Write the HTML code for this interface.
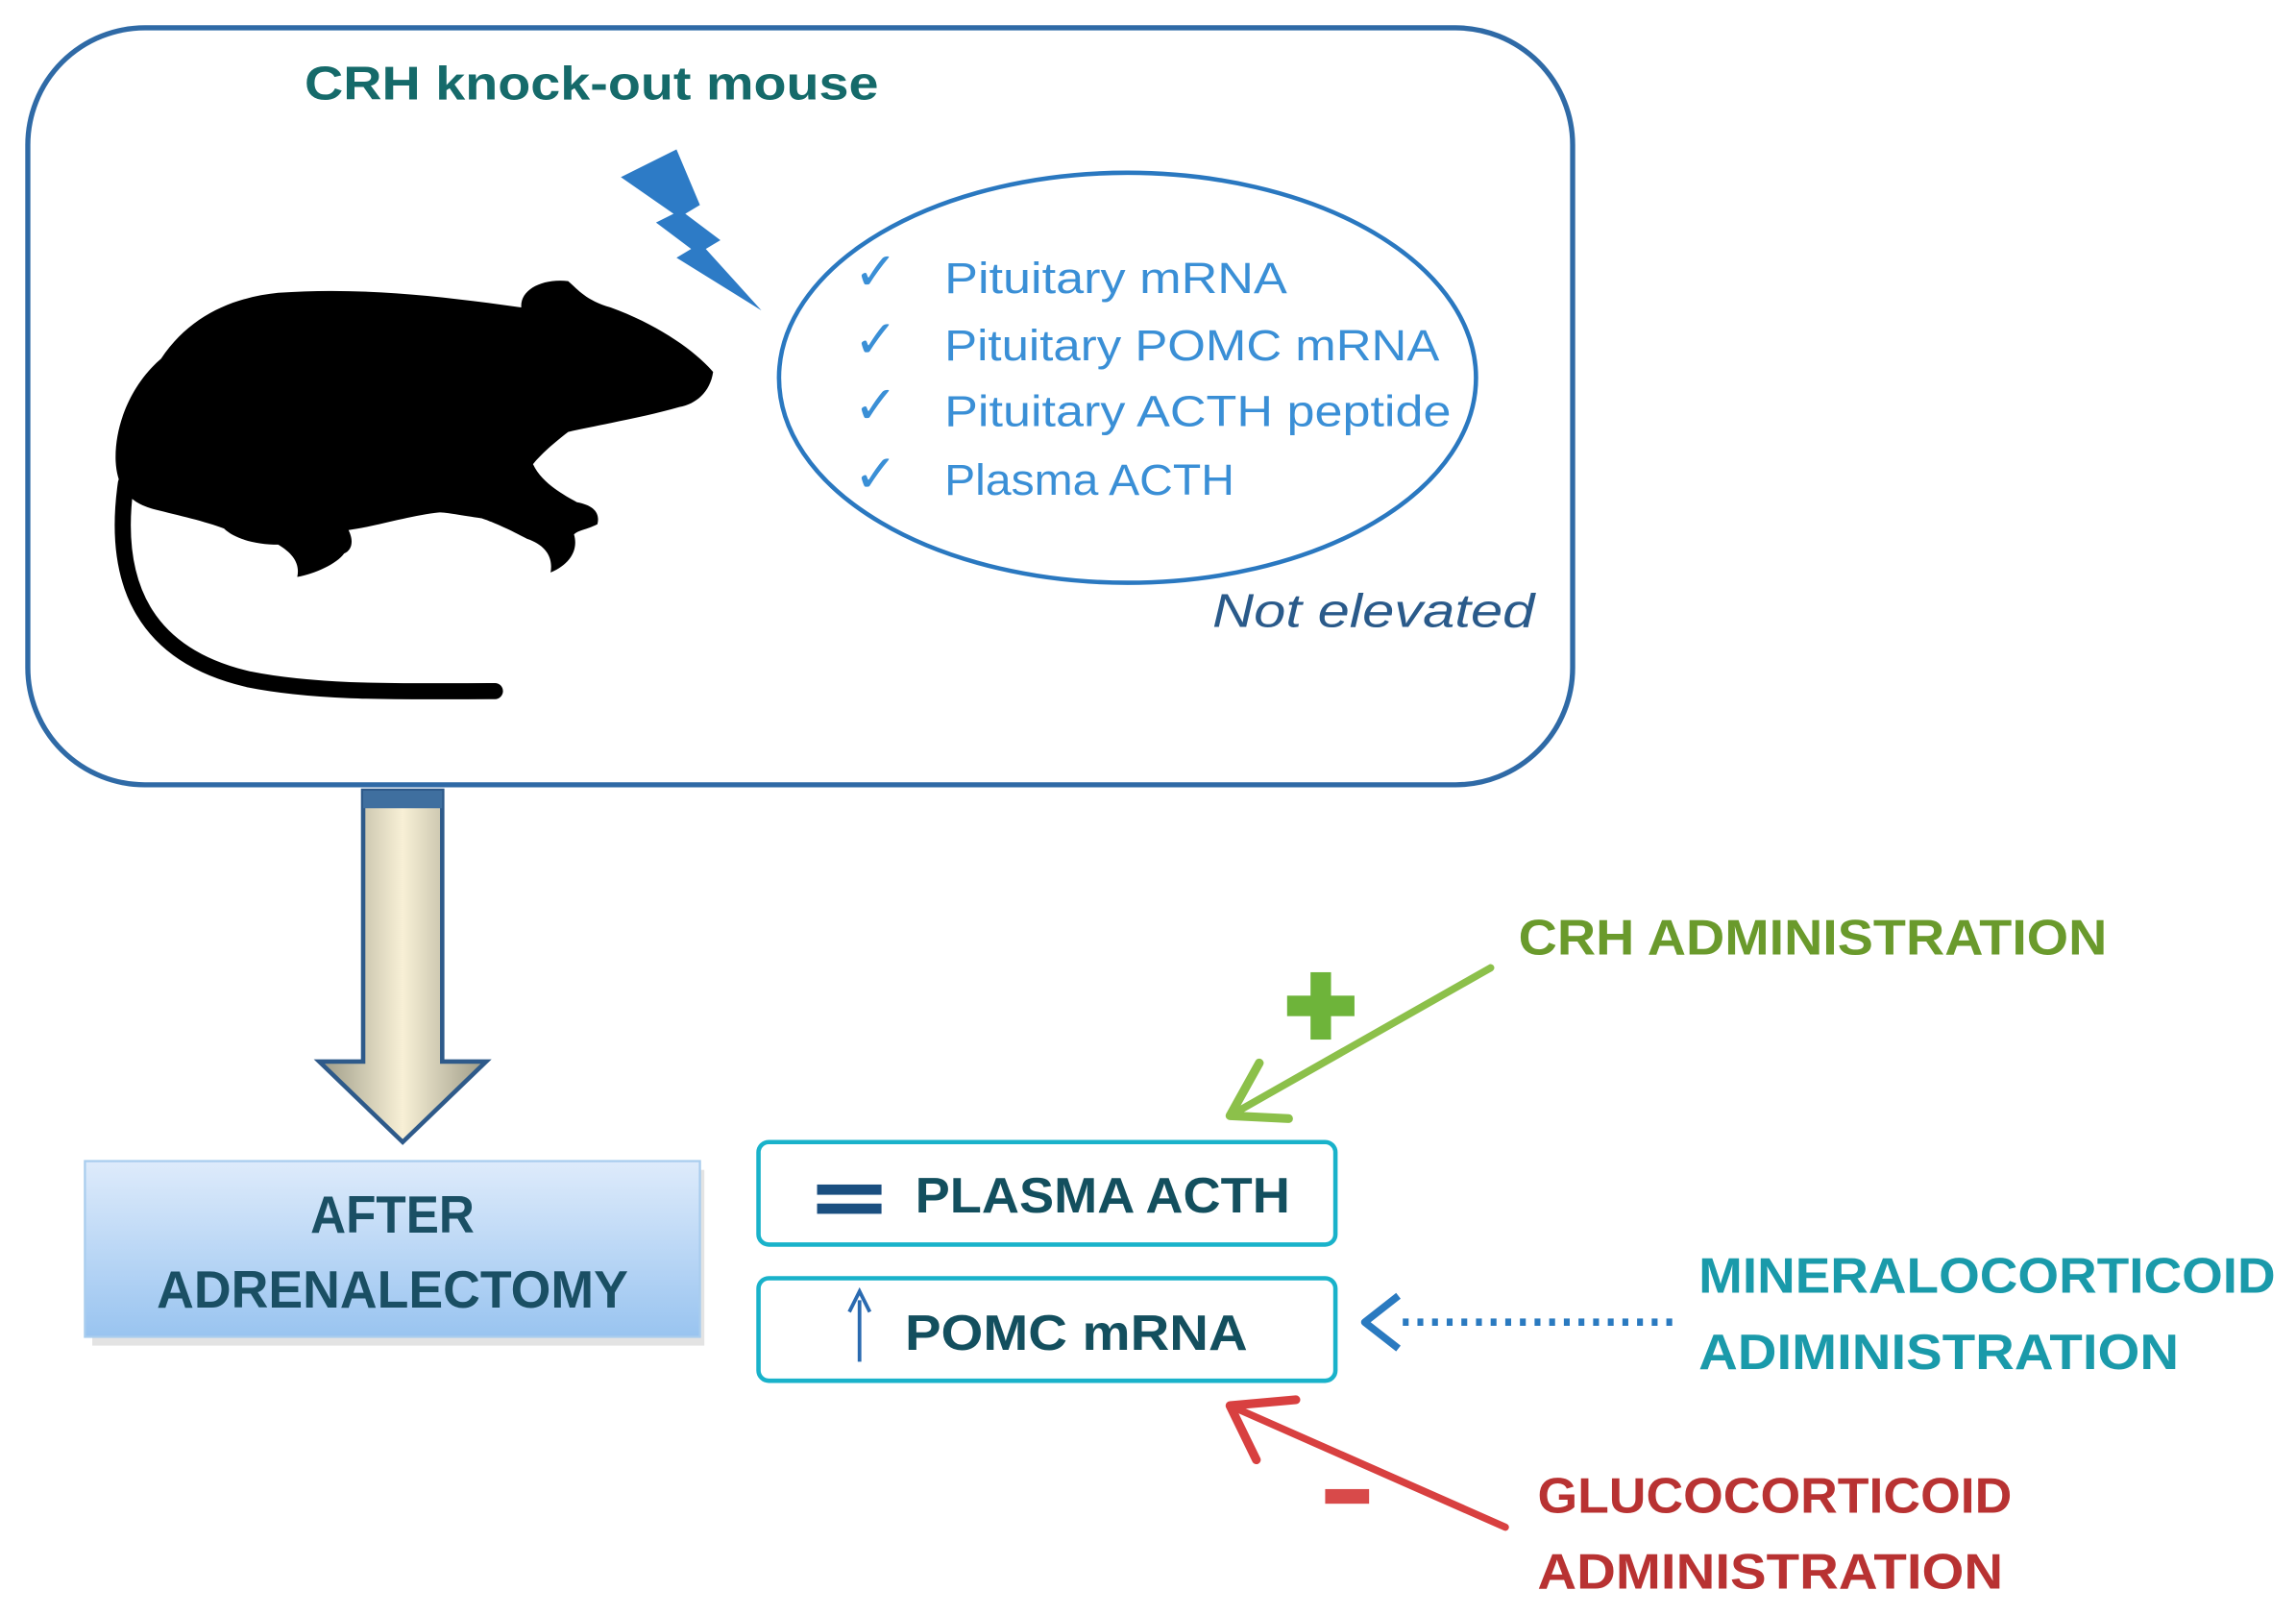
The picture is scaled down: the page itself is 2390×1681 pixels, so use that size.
<!DOCTYPE html>
<html><head><meta charset="utf-8"><style>
html,body{margin:0;padding:0;background:#fff}
svg{display:block}
text{font-family:"Liberation Sans",sans-serif}
</style></head><body>
<svg width="2390" height="1681" viewBox="0 0 1568 1103" preserveAspectRatio="none" xmlns="http://www.w3.org/2000/svg">
<defs>
<linearGradient id="sh" x1="0" x2="1" y1="0" y2="0">
<stop offset="0" stop-color="#9c9a86"/><stop offset="0.5" stop-color="#f8f0d6"/><stop offset="1" stop-color="#9c9a86"/>
</linearGradient>
<linearGradient id="bx" x1="0" x2="0" y1="0" y2="1">
<stop offset="0" stop-color="#deebfb"/><stop offset="1" stop-color="#99c4f0"/>
</linearGradient>
</defs>
<rect x="19" y="19" width="1055" height="517" rx="80" fill="#fff" stroke="#2f6aa6" stroke-width="3.5"/>
<text x="208" y="68" font-size="32" font-weight="bold" fill="#156a6a" textLength="392" lengthAdjust="spacingAndGlyphs">CRH knock-out mouse</text>
<polygon points="424,121 462,102 478,140 468,146 492,164 482,170 520,212 462,176 472,170 448,152 460,146" fill="#2d7bc6"/>
<ellipse cx="770" cy="258" rx="238" ry="140" fill="none" stroke="#2a78c0" stroke-width="3"/>
<g font-size="30" fill="#3a8fd6">
<text x="583" y="198" font-size="36">✓</text><text x="645" y="200" textLength="234" lengthAdjust="spacingAndGlyphs">Pituitary mRNA</text>
<text x="583" y="244" font-size="36">✓</text><text x="645" y="246" textLength="338" lengthAdjust="spacingAndGlyphs">Pituitary POMC mRNA</text>
<text x="583" y="289" font-size="36">✓</text><text x="645" y="291" textLength="346" lengthAdjust="spacingAndGlyphs">Pituitary ACTH peptide</text>
<text x="583" y="336" font-size="36">✓</text><text x="645" y="338" textLength="198" lengthAdjust="spacingAndGlyphs">Plasma ACTH</text>
</g>
<text x="828" y="428" font-size="32" font-style="italic" fill="#2a5a8a" textLength="220" lengthAdjust="spacingAndGlyphs">Not elevated</text>
<!-- mouse -->
<path d="M110,245 C130,215 160,203 190,200 C245,196 300,202 356,210 C355,198 370,190 388,192 C395,198 400,205 417,210 C450,222 475,240 487,254 C485,268 475,276 464,278 C440,285 410,290 388,295 C375,305 368,312 364,317 C370,330 385,338 394,343 C405,345 410,350 408,358 C400,362 395,362 392,365 C395,375 390,385 376,391 C378,380 372,372 360,368 C345,360 335,356 329,354 C315,352 305,350 300,350 C280,352 255,360 238,362 C242,370 240,376 235,378 C230,385 215,392 203,394 C205,385 200,378 190,372 C175,372 160,368 153,361 C140,356 122,352 106,348 C90,344 80,335 79,315 C78,290 90,262 110,245 Z" fill="#000"/>
<path d="M86,330 C76,400 100,448 170,464 C220,474 280,472 338,472" fill="none" stroke="#000" stroke-width="11" stroke-linecap="round"/>
<!-- big arrow -->
<path d="M248,540 L302,540 L302,725 L332,725 L275,780 L218,725 L248,725 Z" fill="url(#sh)" stroke="#2e5a8a" stroke-width="3"/>
<rect x="248" y="540" width="54" height="12" fill="#3f6f9f"/>
<!-- after adrenalectomy -->
<rect x="60" y="795" width="418" height="120" fill="#c8c8c8" opacity="0.5" transform="translate(3,4)"/>
<rect x="58" y="793" width="420" height="120" fill="url(#bx)" stroke="#a9cdee" stroke-width="1.5"/>
<g font-size="36" font-weight="bold" fill="#1a4f64" text-anchor="middle">
<text x="268" y="842" textLength="112" lengthAdjust="spacingAndGlyphs">AFTER</text>
<text x="268" y="893" textLength="322" lengthAdjust="spacingAndGlyphs">ADRENALECTOMY</text>
</g>
<!-- boxes -->
<rect x="518" y="780" width="394" height="70" rx="7" fill="#fff" stroke="#19b2ca" stroke-width="3"/>
<rect x="558" y="809" width="44" height="7" fill="#1a4f80"/><rect x="558" y="822" width="44" height="7" fill="#1a4f80"/>
<text x="625" y="828" font-size="34" font-weight="bold" fill="#134f5e" textLength="256" lengthAdjust="spacingAndGlyphs">PLASMA ACTH</text>
<rect x="518" y="873" width="394" height="70" rx="7" fill="#fff" stroke="#19b2ca" stroke-width="3"/>
<line x1="587" y1="930" x2="587" y2="888" stroke="#2a6ab0" stroke-width="2.5"/>
<path d="M580,896 L587,882 L594,896" fill="none" stroke="#2a6ab0" stroke-width="2.5"/>
<text x="618" y="922" font-size="34" font-weight="bold" fill="#134f5e" textLength="234" lengthAdjust="spacingAndGlyphs">POMC mRNA</text>
<!-- CRH admin -->
<text x="1037" y="652" font-size="34" font-weight="bold" fill="#6a9a2c" textLength="402" lengthAdjust="spacingAndGlyphs">CRH ADMINISTRATION</text>
<line x1="1018" y1="661" x2="840" y2="762" stroke="#8cc04a" stroke-width="5" stroke-linecap="round"/>
<path d="M860,726 L840,762 L880,764" fill="none" stroke="#8cc04a" stroke-width="6" stroke-linejoin="round" stroke-linecap="round"/>
<rect x="879" y="680" width="46" height="14" fill="#6eb43a"/><rect x="895" y="664" width="14" height="46" fill="#6eb43a"/>
<!-- mineralocorticoid -->
<line x1="958" y1="903" x2="1142" y2="903" stroke="#2a7ac0" stroke-width="5" stroke-dasharray="4,6"/>
<path d="M955,885 L932,903 L955,921" fill="none" stroke="#2a7ac0" stroke-width="5" stroke-linejoin="round"/>
<g font-size="34" font-weight="bold" fill="#1a9aaa">
<text x="1160" y="883" textLength="394" lengthAdjust="spacingAndGlyphs">MINERALOCORTICOID</text>
<text x="1160" y="935" textLength="328" lengthAdjust="spacingAndGlyphs">ADIMINISTRATION</text>
</g>
<!-- glucocorticoid -->
<line x1="1028" y1="1043" x2="840" y2="960" stroke="#d84040" stroke-width="5" stroke-linecap="round"/>
<path d="M885,956 L840,960 L858,997" fill="none" stroke="#d84040" stroke-width="6" stroke-linejoin="round" stroke-linecap="round"/>
<rect x="905" y="1017" width="30" height="10" fill="#d84a4a"/>
<g font-size="34" font-weight="bold" fill="#b83232">
<text x="1050" y="1033" textLength="324" lengthAdjust="spacingAndGlyphs">GLUCOCORTICOID</text>
<text x="1050" y="1085" textLength="318" lengthAdjust="spacingAndGlyphs">ADMINISTRATION</text>
</g>
</svg>
</body></html>
